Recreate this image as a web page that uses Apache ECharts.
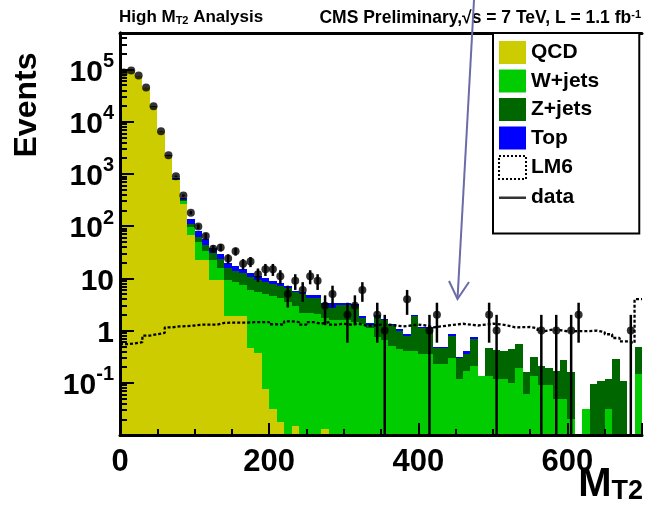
<!DOCTYPE html>
<html><head><meta charset="utf-8">
<script src="https://cdn.jsdelivr.net/npm/echarts@6.0.0/dist/echarts.min.js"></script>
<style>html,body{margin:0;padding:0;background:#fff}#c{width:650px;height:505px}</style>
</head><body><div id="c"></div>
<script>
// ---- data (bins of 10 GeV in M_T2) ----
const binLow = [0,10,20,30,40,50,60,70,80,90,100,110,120,130,140,150,160,170,180,190,
  200,210,220,230,240,250,260,270,280,290,300,310,320,330,340,350,360,370,380,390,
  400,410,420,430,440,450,460,470,480,490,500,510,520,530,540,550,560,570,580,590,
  600,610,620,630,640,650,660,670,680,690];
const binWidth = 10;
const qcd = [90000,92000,76000,45000,19500,6500,2200,750,270,68,
  22.6,22.6,9.4,9.4,1.88,1.88,1.88,0.47,0.37,0.075,
  0.031,0.018,0,0.015,0,0,0,0.013,0,0,
  0,0,0,0,0,0,0,0,0,0, 0,0,0,0,0,0,0,0,0,0, 0,0,0,0,0,0,0,0,0,0, 0,0,0,0,0,0,0,0,0,0];
const wjets = [30,40,60,60,50,40,35,30,30,30,
  27.4,11.4,12.6,6.6,7.6,6.6,5.6,5.5,5.1,4.9,
  4.6,4.2,3.6,3.0,2.2,2.2,2.1,1.74,1.6,1.6,
  1.6,1.45,1.35,1.1,0.75,0.67,0.5,0.45,0.4,0.4,
  0.35,0.35,0.23,0.23,0.3,0.116,0.17,0.21,0.134,0.135,
  0.116,0.116,0.10,0.19,0.06,0.135,0.089,0.089,0.05,0.05,
  0.02,0,0.031,0,0,0.031,0,0,0,0.15];
const zjets = [5,8,10,12,12,12,12,12,12,14,
  12,10,8,7,6.5,5.5,5,4.5,4,3.5,
  3.2,2.8,2.9,2.4,2.8,2.0,2.1,1.35,1.1,1.5,
  1.5,1.55,0.4,0.2,1.15,0.93,0.8,0.55,0.4,1.5,
  0.75,0.75,0.24,0.24,0.5,0.184,0.18,0.49,0,0.335,
  0.304,0.284,0.35,0.37,0.10,0.175,0.121,0.101,0.12,0.22,
  0.14,0,0,0.095,0.11,0.089,0.28,0.106,0,0.34];
const topQuark = [5,8,10,15,20,25,30,30,30,25,
  18,12,8,6,4,3,2.5,2,1.5,1.5,
  1.2,1.0,0.7,0.4,0.6,0.7,0.7,0.2,0.7,0.2,
  0.2,0.2,0.15,0.1,0.1,0.05,0.05,0.05,0.05,0.1,
  0.06,0.06,0.01,0.01,0.06,0.01,0.05,0.06,0,0,
  0,0,0,0,0,0,0,0,0,0, 0,0,0,0,0,0,0,0,0,0];
const lm6 = [0.55,0.57,0.6,0.8,0.85,0.9,1.15,1.2,1.22,1.25,
  1.3,1.3,1.3,1.4,1.42,1.42,1.42,1.45,1.45,1.45,
  1.32,1.3,1.5,1.45,1.3,1.45,1.35,1.45,1.3,1.35,
  1.3,1.35,1.25,1.25,1.3,1.3,1.25,1.2,1.25,1.3,
  1.25,1.15,1.2,1.25,1.3,1.35,1.3,1.25,1.3,1.35,
  1.32,1.25,1.15,1.16,1.17,1.1,0.98,1.04,1.02,0.97,
  0.97,0.98,0.98,1.0,0.93,0.85,0.72,0.62,0.58,4.0];
const dataCounts = [88000,96000,77000,45000,19700,6600,2290,900,385,181,
  98,65,37,39,24,33,19,21,12,15,
  15,11,5,9,6,11,9,3,5,0,
  2,3,6,0,2,1,0,0,4,0,
  0,1,2,0,0,0,0,0,0,2,
  1,0,0,0,0,0,1,0,1,0,
  1,2,0,0,0,0,0,0,1,0];
const xTickLabels = [0,200,400,600];
const yTickLabels = [0.1,1,10,100,1000,10000,100000];

// ---- chart ----
const FONT = '"Liberation Sans", Arial, Helvetica, sans-serif';
const YMIN = 0.01, YMAX = 5e5, XMIN = 0, XMAX = 700;
const procs = [
  {name:'QCD', vals: qcd, color:'#cccc00'},
  {name:'W+jets', vals: wjets, color:'#00cc00'},
  {name:'Z+jets', vals: zjets, color:'#006600'},
  {name:'Top', vals: topQuark, color:'#0000ff'}
];
const cum = binLow.map(() => 0);
const stackSeries = procs.map((p, k) => {
  const items = [];
  for (let i = 0; i < binLow.length; i++) {
    const lo = cum[i], hi = lo + p.vals[i];
    cum[i] = hi;
    if (p.vals[i] > 0 && hi > YMIN) items.push([binLow[i], binLow[i] + binWidth, Math.max(lo, YMIN), hi]);
  }
  return {
    type: 'custom', name: p.name, coordinateSystem: 'cartesian2d', xAxisIndex: 0, yAxisIndex: 0,
    clip: true, silent: true, z: 2, itemStyle: {color: p.color},
    encode: {x: [0, 1], y: [2, 3]},
    data: items,
    renderItem: function (params, api) {
      const a = api.coord([api.value(0), api.value(3)]);
      const b = api.coord([api.value(1), api.value(2)]);
      const x0 = Math.round(a[0]), x1 = Math.round(b[0]);
      const y0 = Math.round(a[1]), y1 = Math.round(b[1]);
      return {type: 'rect', shape: {x: x0, y: y0, width: x1 - x0, height: y1 - y0},
        style: {fill: p.color}};
    }
  };
});

const lm6Points = binLow.map((x, i) => [x, lm6[i]]);
lm6Points.push([XMAX, lm6[lm6.length - 1]]);

const dataPts = [], errBars = [];
binLow.forEach((x, i) => {
  const n = dataCounts[i];
  if (n > 0) {
    const c = x + binWidth / 2;
    dataPts.push([c, n]);
    errBars.push([c, n - Math.sqrt(n), n + Math.sqrt(n)]);
  }
});

const minorY = [];
for (let e = -2; e <= 5; e++) for (let k = 2; k <= 9; k++) { const v = k * Math.pow(10, e); if (v < YMAX) minorY.push(+v.toPrecision(3)); }

function yLabel(v) {
  const e = Math.round(Math.log10(v));
  if (e === 0) return '{b|1}';
  if (e === 1) return '{b|10}';
  return '{b|10}{s|' + e + '}';
}

const chart = echarts.init(document.getElementById('c'), null, {renderer: 'canvas'});
chart.setOption({
  animation: false,
  backgroundColor: '#fff',
  textStyle: {fontFamily: FONT},
  title: [
    {text: 'High M{sub|T2} Analysis', left: 119, top: 9, padding: 0,
      textStyle: {fontFamily: FONT, fontWeight: 'bold', fontSize: 17, color: '#000',
        rich: {sub: {fontFamily: FONT, fontWeight: 'bold', fontSize: 11, verticalAlign: 'bottom', color: '#000'}}}},
    {text: 'CMS Preliminary,\u221As = 7 TeV, L = 1.1 fb{sup|-1}', right: 9, top: 9, padding: 0,
      textStyle: {fontFamily: FONT, fontWeight: 'bold', fontSize: 17.5, color: '#000',
        rich: {sup: {fontFamily: FONT, fontWeight: 'bold', fontSize: 11, verticalAlign: 'top', color: '#000'}}}}
  ],
  grid: {left: 120, right: 8, top: 33, bottom: 70, containLabel: false, outerBoundsMode: 'none', show: false},
  legend: {
    orient: 'vertical', left: 493, top: 33, padding: [8, 40, 25, 5],
    itemWidth: 27, itemHeight: 23, itemGap: 5.5,
    backgroundColor: '#fff', borderColor: '#000', borderWidth: 2, borderRadius: 0,
    selectedMode: false, z: 20,
    textStyle: {fontFamily: FONT, fontWeight: 'bold', fontSize: 21, color: '#000'},
    data: [
      {name: 'QCD', icon: 'rect'},
      {name: 'W+jets', icon: 'rect'},
      {name: 'Z+jets', icon: 'rect'},
      {name: 'Top', icon: 'rect'},
      {name: 'LM6', icon: 'rect', itemStyle: {color: '#fff', borderColor: '#000', borderWidth: 2, borderType: [2, 2]}},
      {name: 'data', icon: 'path://M0,0L0.01,0L0.01,0.01L0,0.01Z M0,11L27,11L27,13.5L0,13.5Z M26.99,22.99L27,22.99L27,23L26.99,23Z', itemStyle: {color: '#000'}}
    ]
  },
  xAxis: [
    {type: 'value', min: XMIN, max: XMAX, interval: 200, position: 'bottom', z: 10,
      axisLine: {show: true, lineStyle: {color: '#000', width: 3}},
      axisTick: {show: true, inside: true, length: 12, lineStyle: {color: '#000', width: 2}},
      axisLabel: {show: true, margin: 12, color: '#000', fontFamily: FONT, fontWeight: 'bold', fontSize: 31,
        formatter: v => (xTickLabels.indexOf(v) >= 0 ? String(v) : '')},
      splitLine: {show: false}},
    {type: 'value', min: XMIN, max: XMAX, interval: 50, position: 'bottom', z: 10,
      axisLine: {show: false}, axisLabel: {show: false}, splitLine: {show: false},
      axisTick: {show: true, inside: true, length: 6, lineStyle: {color: '#000', width: 2}}},
    {type: 'value', min: XMIN, max: XMAX, position: 'top', z: 10,
      axisLine: {show: true, lineStyle: {color: '#000', width: 3}}, axisTick: {show: false},
      axisLabel: {show: false}, splitLine: {show: false}}
  ],
  yAxis: [
    {type: 'log', logBase: 10, min: YMIN, max: YMAX, position: 'left', z: 10,
      axisLine: {show: true, lineStyle: {color: '#000', width: 3}},
      axisTick: {show: true, inside: true, length: 14, customValues: yTickLabels, lineStyle: {color: '#000', width: 2}},
      axisLabel: {show: true, margin: 6, customValues: yTickLabels, color: '#000', formatter: yLabel,
        rich: {b: {fontFamily: FONT, fontWeight: 'bold', fontSize: 30, color: '#000', padding: [6, 0, 0, 0]},
               s: {fontFamily: FONT, fontWeight: 'bold', fontSize: 20, color: '#000', verticalAlign: 'top'}}},
      splitLine: {show: false}, minorTick: {show: false}},
    {type: 'log', logBase: 10, min: YMIN, max: YMAX, position: 'left', z: 10,
      axisLine: {show: false}, axisLabel: {show: false}, splitLine: {show: false},
      axisTick: {show: true, inside: true, length: 7, customValues: minorY, lineStyle: {color: '#000', width: 2}}},
    {type: 'log', logBase: 10, min: YMIN, max: YMAX, position: 'right', z: 10,
      axisLine: {show: true, lineStyle: {color: '#000', width: 3}}, axisTick: {show: false},
      axisLabel: {show: false}, splitLine: {show: false}}
  ],
  graphic: [
    {type: 'text', x: 27, y: 105, rotation: Math.PI / 2, z: 100,
      style: {text: 'Events', font: 'bold 32px ' + FONT, fill: '#000', align: 'center', verticalAlign: 'middle'}},
    {type: 'text', x: 643, y: 505, z: 100,
      style: {text: 'M{s|T2}', fontFamily: FONT, fontWeight: 'bold', fontSize: 40, fill: '#000', align: 'right', verticalAlign: 'bottom',
        rich: {s: {fontFamily: FONT, fontWeight: 'bold', fontSize: 27, fill: '#000', verticalAlign: 'bottom'}}}},
    {type: 'polyline', z: 100, silent: true, shape: {points: [[474, 0], [457.5, 299]]},
      style: {stroke: '#6b6ba8', lineWidth: 2, fill: null}},
    {type: 'polyline', z: 100, silent: true, shape: {points: [[449, 281], [457.5, 299], [469, 282]]},
      style: {stroke: '#6b6ba8', lineWidth: 2, fill: null}}
  ],
  series: stackSeries.concat([
    {type: 'line', name: 'LM6', step: 'end', data: lm6Points, xAxisIndex: 0, yAxisIndex: 0,
      symbol: 'none', showSymbol: false, clip: true, z: 3, silent: true,
      itemStyle: {color: '#000'}, lineStyle: {color: '#000', width: 2.3, type: [3, 2]}},
    {type: 'custom', name: 'data-err', coordinateSystem: 'cartesian2d', xAxisIndex: 0, yAxisIndex: 0,
      clip: true, silent: true, z: 4, encode: {x: 0, y: [1, 2]}, data: errBars,
      renderItem: function (params, api) {
        const lo = Math.max(api.value(1), YMIN);
        const a = api.coord([api.value(0), lo]);
        const b = api.coord([api.value(0), api.value(2)]);
        return {type: 'line', shape: {x1: a[0], y1: a[1], x2: b[0], y2: b[1]},
          style: {stroke: '#000', lineWidth: 2.5}};
      }},
    {type: 'scatter', name: 'data', data: dataPts, xAxisIndex: 0, yAxisIndex: 0,
      symbol: 'circle', symbolSize: 8, z: 5, silent: true, itemStyle: {color: '#000'}}
  ])
});
</script></body></html>
